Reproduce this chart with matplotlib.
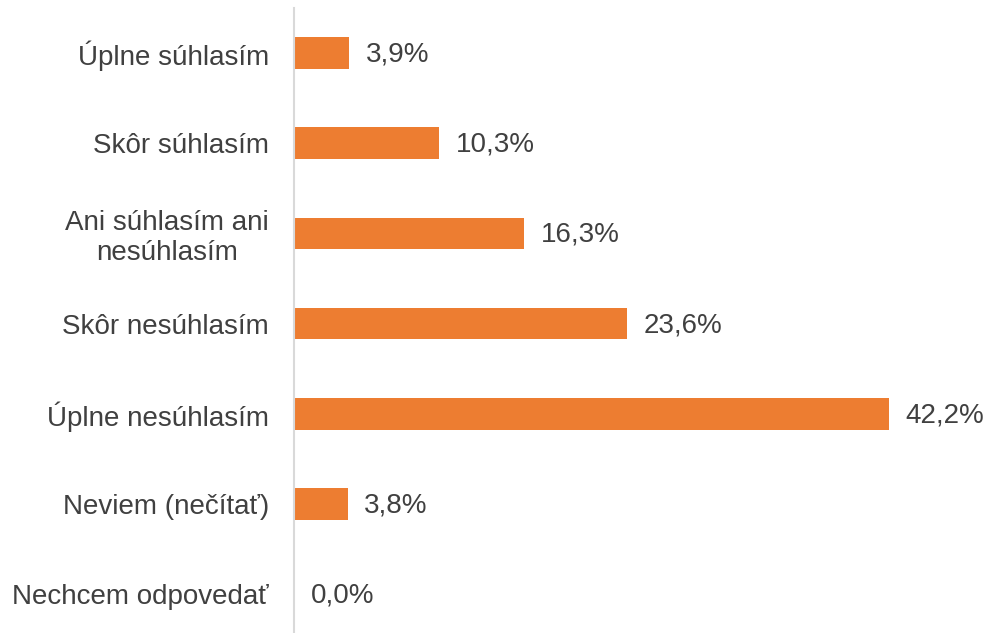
import matplotlib
matplotlib.use('Agg')
import matplotlib.pyplot as plt

plt.rcParams['font.family'] = ['Liberation Sans', 'DejaVu Sans']

categories = ['Úplne súhlasím', 'Skôr súhlasím', 'Ani súhlasím ani\nnesúhlasím',
              'Skôr nesúhlasím', 'Úplne nesúhlasím', 'Neviem (nečítať)',
              'Nechcem odpovedať']
values = [3.9, 10.3, 16.3, 23.6, 42.2, 3.8, 0.0]

text_color = '#404040'
bar_color = '#ED7D31'

fig = plt.figure(figsize=(9.91, 6.33), dpi=100)
ax = fig.add_axes([294 / 991, 0, 677 / 991, 625 / 633])

pos = list(range(len(categories)))
ax.barh(pos, values, height=0.35, color=bar_color)

for p, v in zip(pos, values):
    ax.annotate(f'{v:.1f}%'.replace('.', ','), (v, p), xytext=(12, -1),
                textcoords='offset points', va='center', ha='left',
                fontsize=20, color=text_color)

ax.set_xlim(0, 48)
ax.set_ylim(6.43, -0.5)
ax.set_yticks(pos)
ax.set_yticklabels(categories, fontsize=20, color=text_color, multialignment='center')
ax.tick_params(axis='y', length=0, pad=18)
ax.set_xticks([])

for s in ['top', 'right', 'bottom']:
    ax.spines[s].set_visible(False)
ax.spines['left'].set_color('#D9D9D9')
ax.spines['left'].set_linewidth(1.5)

fig.savefig('out.png', dpi=100)
